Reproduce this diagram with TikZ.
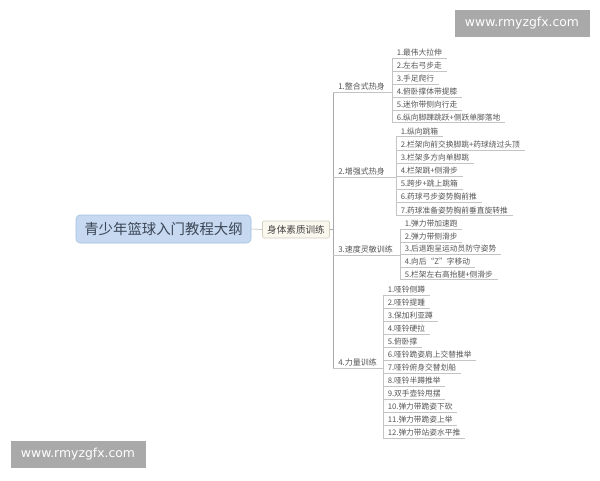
\documentclass[tikz,border=0pt]{standalone}
\usepackage{fontspec}
\newfontfamily\cjk{Noto Sans CJK SC}
\newfontfamily\wmfont{DejaVu Sans}
\definecolor{mainfill}{HTML}{C6D9F0}
\definecolor{mainline}{HTML}{A4BEE0}
\definecolor{maintext}{HTML}{3C4656}
\definecolor{boxfill}{HTML}{FAF7EE}
\definecolor{boxline}{HTML}{D6CFBF}
\definecolor{lncol}{HTML}{C4C4C4}
\definecolor{trunkcol}{HTML}{A8A8A8}
\definecolor{txtcol}{HTML}{555555}
\definecolor{wmgray}{HTML}{A9A9A9}
\begin{document}
\begin{tikzpicture}[x=0.75pt,y=-0.75pt,
  mainnode/.style={draw=mainline,fill=mainfill,rounded corners=3pt,minimum width=175*0.75pt,minimum height=28*0.75pt,inner sep=0pt,font=\cjk\fontsize{10.8}{12}\selectfont,text=maintext},
  subnode/.style={draw=boxline,fill=boxfill,rounded corners=1pt,minimum width=67*0.75pt,minimum height=17*0.75pt,inner sep=0pt,font=\cjk\fontsize{7.2}{8}\selectfont,text=txtcol!80!black},
  leaf/.style={anchor=south west,inner xsep=4.5*0.75pt,inner ysep=1.2pt,font=\cjk\fontsize{5.8}{6.5}\selectfont,text=txtcol},
  grp/.style={anchor=south west,inner xsep=5*0.75pt,inner ysep=1.2pt,font=\cjk\fontsize{6}{6.5}\selectfont,text=txtcol},
  ln/.style={draw=lncol,line width=0.5pt},
  trunk/.style={draw=trunkcol,line width=0.6pt},
  wm/.style={fill=wmgray,minimum width=135*0.75pt,minimum height=27*0.75pt,inner sep=0pt,text=white,font=\wmfont\fontsize{9.3}{10}\selectfont}
]
\useasboundingbox[fill=white] (0,0) rectangle (600,480);

% watermarks
\node[wm] (wm1) at (522,23) {www.rmyzgfx.com};
\node[wm] (wm2) at (78,454.5) {www.rmyzgfx.com};

% main and sub nodes
\node[mainnode] (main) at (163.5,229) {青少年篮球入门教程大纲};
\node[subnode] (sub) at (296,229.5) {身体素质训练};
\draw[ln] (main.east) -- (sub.west);

% group labels
\node[grp] (g1) at (333,92) {1.整合式热身};
\node[grp] (g2) at (333,177) {2.增强式热身};
\node[grp] (g3) at (333,255) {3.速度灵敏训练};
\node[grp] (g4) at (333,368) {4.力量训练};
\draw[trunk] (g1.south west) -- (g4.south west);
\draw[trunk] (sub.east) -- (sub.east -| g1.south west);

% group 1
\foreach \t [count=\i] in {1.最伟大拉伸,2.左右弓步走,3.手足爬行,4.俯卧撑体带提膝,5.迷你带侧向行走,6.纵向脚踝跳跃+侧跃单脚落地}{
  \node[leaf] (a\i) at (392,{58.3+(\i-1)*12.9}) {\t};
  \draw[ln] (a\i.south west) -- (a\i.south east);
}
\draw[ln] (a1.south west) -- (a6.south west);
\draw[ln] (g1.south west) -- (g1.south west -| a1.south west);

% group 2
\foreach \t [count=\i] in {1.纵向跳箱,2.栏架向前交换脚跳+药球绕过头顶,3.栏架多方向单脚跳,4.栏架跳+侧滑步,5.跨步+跳上跳箱,6.药球弓步姿势胸前推,7.药球准备姿势胸前垂直旋转推}{
  \node[leaf] (b\i) at (396,{136.7+(\i-1)*13.15}) {\t};
  \draw[ln] (b\i.south west) -- (b\i.south east);
}
\draw[ln] (b1.south west) -- (b7.south west);
\draw[ln] (g2.south west) -- (g2.south west -| b1.south west);

% group 3
\foreach \t [count=\i] in {1.弹力带加速跑,2.弹力带侧滑步,3.后退跑呈运动员防守姿势,4.向后“Z”字移动,5.栏架左右高抬腿+侧滑步}{
  \node[leaf] (c\i) at (400,{229.3+(\i-1)*12.6}) {\t};
  \draw[ln] (c\i.south west) -- (c\i.south east);
}
\draw[ln] (c1.south west) -- (c5.south west);
\draw[ln] (g3.south west) -- (g3.south west -| c1.south west);

% group 4
\foreach \t [count=\i] in {1.哑铃侧蹲,2.哑铃提踵,3.保加利亚蹲,4.哑铃硬拉,5.俯卧撑,6.哑铃跪姿肩上交替推举,7.哑铃俯身交替划船,8.哑铃半蹲推举,9.双手壶铃甩摆,10.弹力带跪姿下砍,11.弹力带跪姿上举,12.弹力带站姿水平推}{
  \node[leaf] (d\i) at (383,{295+(\i-1)*13.03}) {\t};
  \draw[ln] (d\i.south west) -- (d\i.south east);
}
\draw[ln] (d1.south west) -- (d12.south west);
\draw[ln] (g4.south west) -- (g4.south west -| d1.south west);
\end{tikzpicture}
\end{document}
